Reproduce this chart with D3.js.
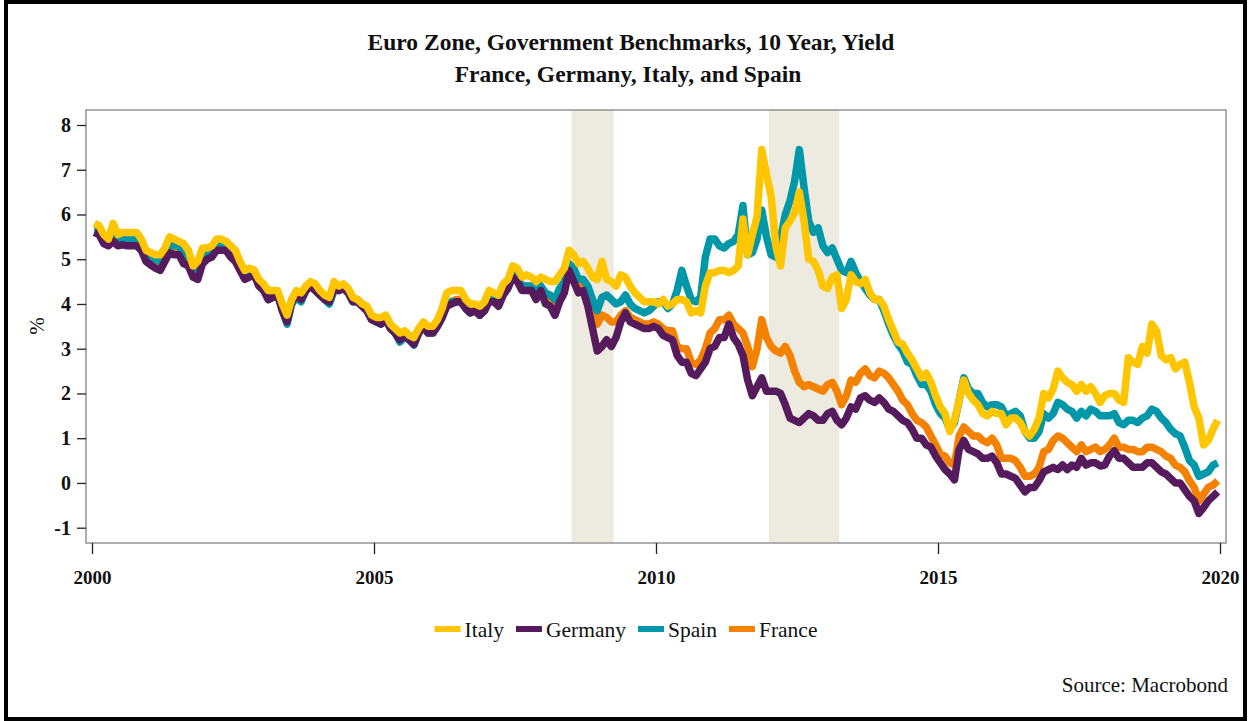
<!DOCTYPE html>
<html><head><meta charset="utf-8">
<script src="https://cdn.jsdelivr.net/npm/d3@7"></script>
<style>body{margin:0;background:#fff} svg{display:block}</style>
</head><body>
<svg id="c" width="1249" height="721"></svg>
<script>
// ---------------- DATA ----------------
const startYear = 2000;               // monthly values, Jan 2000 .. Dec 2019
const xTicks = [2000, 2005, 2010, 2015, 2020];
const yTicks = [-1, 0, 1, 2, 3, 4, 5, 6, 7, 8];
const shadeStart = [2008.5, 2012.0];
const shadeEnd   = [2009.25, 2013.25];
const seriesNames = ["Italy", "Germany", "Spain", "France"];

const italy = [
5.80,5.75,5.55,5.45,5.80,5.55,5.60,5.60,5.60,5.60,5.45,5.20,
5.15,5.10,5.10,5.25,5.50,5.45,5.40,5.35,5.20,4.85,4.95,5.25,
5.25,5.30,5.45,5.45,5.40,5.30,5.20,4.95,4.75,4.80,4.75,4.55,
4.45,4.30,4.30,4.30,4.00,3.75,4.10,4.30,4.25,4.40,4.50,4.45,
4.30,4.20,4.15,4.50,4.40,4.45,4.35,4.15,4.10,4.00,3.95,3.75,
3.70,3.70,3.75,3.55,3.45,3.35,3.40,3.30,3.25,3.45,3.60,3.50,
3.50,3.65,3.90,4.25,4.30,4.30,4.30,4.10,4.00,4.00,3.95,4.05,
4.30,4.25,4.20,4.45,4.55,4.85,4.80,4.60,4.65,4.60,4.50,4.60,
4.55,4.50,4.50,4.65,4.80,5.20,5.10,4.90,4.95,4.80,4.60,4.55,
4.95,4.55,4.50,4.40,4.65,4.60,4.40,4.25,4.15,4.05,4.05,4.05,
4.00,4.10,3.95,4.00,4.10,4.10,4.05,3.80,3.85,3.80,4.40,4.70,
4.70,4.75,4.75,4.70,4.75,4.85,5.90,5.10,5.55,5.95,7.45,6.90,
6.40,5.30,4.85,5.70,5.85,6.05,6.50,5.85,5.00,4.95,4.75,4.40,
4.35,4.60,4.65,3.90,4.10,4.65,4.50,4.45,4.55,4.25,4.10,4.10,
3.95,3.65,3.40,3.15,3.10,2.90,2.75,2.55,2.35,2.45,2.25,1.95,
1.70,1.55,1.15,1.40,1.85,2.30,2.00,1.85,1.75,1.55,1.50,1.60,
1.55,1.55,1.30,1.45,1.45,1.35,1.15,1.05,1.20,1.45,2.00,1.90,
2.10,2.50,2.35,2.25,2.20,2.05,2.20,2.05,2.15,2.00,1.80,1.95,
2.00,2.00,1.85,1.80,2.80,2.70,2.65,3.05,2.90,3.55,3.40,2.85,
2.75,2.80,2.55,2.65,2.70,2.25,1.70,1.45,0.85,0.95,1.20,1.40];

const germany = [
5.60,5.55,5.35,5.30,5.40,5.30,5.32,5.30,5.30,5.30,5.20,4.95,
4.87,4.80,4.75,4.95,5.15,5.10,5.10,4.90,4.85,4.60,4.55,4.90,
5.00,5.05,5.20,5.20,5.20,5.05,4.95,4.75,4.55,4.60,4.65,4.40,
4.30,4.10,4.15,4.20,3.85,3.60,4.05,4.20,4.10,4.30,4.40,4.30,
4.20,4.10,4.05,4.35,4.30,4.35,4.25,4.05,4.05,3.95,3.85,3.65,
3.60,3.55,3.65,3.45,3.35,3.20,3.30,3.20,3.10,3.35,3.50,3.35,
3.35,3.50,3.70,3.95,4.00,4.05,4.05,3.90,3.80,3.85,3.75,3.85,
4.05,4.05,3.95,4.20,4.35,4.60,4.50,4.30,4.30,4.30,4.10,4.30,
4.00,3.95,3.75,4.05,4.25,4.75,4.50,4.25,4.30,3.95,3.45,2.95,
3.05,3.20,3.05,3.25,3.60,3.80,3.60,3.55,3.50,3.45,3.45,3.50,
3.45,3.30,3.25,3.20,2.85,2.70,2.70,2.45,2.40,2.55,2.70,3.00,
3.05,3.25,3.25,3.55,3.25,3.10,2.85,2.30,1.95,2.15,2.35,2.05,
2.05,2.05,2.00,1.75,1.45,1.40,1.35,1.45,1.55,1.50,1.40,1.40,
1.55,1.60,1.40,1.30,1.45,1.70,1.65,1.90,1.95,1.85,1.80,1.90,
1.80,1.65,1.60,1.50,1.40,1.35,1.20,1.00,1.00,0.85,0.80,0.60,
0.45,0.30,0.20,0.07,0.75,0.95,0.75,0.70,0.65,0.55,0.55,0.60,
0.45,0.20,0.20,0.15,0.10,-0.05,-0.20,-0.10,-0.10,0.05,0.25,0.30,
0.35,0.30,0.40,0.30,0.40,0.35,0.55,0.40,0.45,0.45,0.38,0.40,
0.60,0.72,0.55,0.55,0.45,0.35,0.35,0.35,0.45,0.45,0.35,0.25,
0.20,0.10,0.00,0.00,-0.15,-0.30,-0.40,-0.68,-0.55,-0.40,-0.30,-0.20];

const spain = [
5.65,5.65,5.50,5.40,5.55,5.45,5.45,5.45,5.45,5.45,5.35,5.10,
5.05,5.00,4.95,5.15,5.35,5.30,5.30,5.10,5.05,4.85,4.70,5.05,
5.15,5.20,5.35,5.35,5.35,5.20,5.10,4.85,4.60,4.65,4.70,4.45,
4.35,4.10,4.15,4.20,3.85,3.55,4.00,4.15,4.05,4.30,4.40,4.30,
4.20,4.10,4.00,4.30,4.30,4.35,4.25,4.05,4.05,3.95,3.85,3.65,
3.60,3.55,3.65,3.45,3.35,3.15,3.25,3.20,3.08,3.35,3.50,3.35,
3.35,3.50,3.70,4.00,4.05,4.05,4.05,3.90,3.80,3.85,3.75,3.85,
4.10,4.10,4.00,4.25,4.40,4.65,4.60,4.40,4.40,4.40,4.25,4.40,
4.25,4.20,4.10,4.35,4.50,4.90,4.80,4.55,4.55,4.40,4.10,3.85,
4.15,4.20,4.10,4.00,4.05,4.20,4.00,3.90,3.85,3.80,3.85,3.95,
4.05,4.05,3.90,4.00,4.30,4.75,4.40,4.10,4.05,4.15,5.05,5.45,
5.45,5.30,5.25,5.35,5.40,5.55,6.20,5.10,5.15,5.45,6.10,5.50,
5.10,5.05,5.45,6.00,6.30,6.75,7.45,6.60,5.85,5.60,5.70,5.30,
5.15,5.25,5.00,4.75,4.70,4.95,4.70,4.50,4.35,4.20,4.10,4.10,
3.85,3.55,3.30,3.10,2.95,2.70,2.65,2.40,2.20,2.20,2.05,1.75,
1.55,1.45,1.20,1.35,1.85,2.35,2.10,2.00,2.00,1.80,1.70,1.75,
1.75,1.70,1.50,1.55,1.60,1.50,1.15,1.00,1.00,1.15,1.55,1.45,
1.55,1.80,1.75,1.65,1.60,1.45,1.60,1.50,1.65,1.60,1.50,1.50,
1.50,1.55,1.35,1.30,1.40,1.40,1.35,1.45,1.50,1.65,1.60,1.45,
1.35,1.20,1.10,1.05,0.80,0.50,0.40,0.15,0.20,0.25,0.40,0.45];

const france = [
5.70,5.70,5.50,5.40,5.50,5.40,5.42,5.40,5.40,5.40,5.30,5.05,
4.95,4.90,4.85,5.05,5.25,5.20,5.20,5.00,4.95,4.75,4.65,5.00,
5.10,5.15,5.30,5.30,5.30,5.15,5.05,4.80,4.60,4.65,4.75,4.50,
4.40,4.15,4.20,4.25,3.90,3.65,4.10,4.25,4.15,4.35,4.45,4.35,
4.25,4.15,4.05,4.35,4.35,4.40,4.30,4.10,4.10,4.00,3.90,3.70,
3.65,3.60,3.70,3.50,3.40,3.25,3.30,3.25,3.15,3.40,3.55,3.40,
3.40,3.55,3.75,4.00,4.05,4.10,4.10,3.95,3.85,3.85,3.80,3.90,
4.10,4.10,4.00,4.25,4.40,4.65,4.60,4.40,4.40,4.40,4.25,4.40,
4.15,4.10,3.95,4.25,4.40,4.85,4.70,4.40,4.40,4.20,3.90,3.55,
3.75,3.70,3.60,3.60,3.75,3.85,3.70,3.65,3.60,3.55,3.55,3.60,
3.55,3.45,3.40,3.40,3.05,3.00,3.00,2.70,2.65,2.75,3.00,3.35,
3.45,3.65,3.65,3.75,3.55,3.45,3.35,3.05,2.60,3.00,3.65,3.25,
3.05,2.95,2.90,3.05,2.85,2.50,2.25,2.15,2.20,2.15,2.10,2.05,
2.20,2.25,2.05,1.75,1.95,2.30,2.25,2.45,2.55,2.40,2.35,2.50,
2.45,2.35,2.20,2.05,1.85,1.75,1.55,1.40,1.35,1.25,1.05,0.85,
0.65,0.60,0.45,0.40,1.05,1.25,1.15,1.05,1.05,0.95,0.90,1.00,
0.85,0.55,0.55,0.55,0.50,0.35,0.15,0.15,0.20,0.35,0.70,0.75,
0.95,1.05,1.00,0.90,0.80,0.70,0.85,0.70,0.75,0.80,0.70,0.75,
0.85,1.00,0.80,0.80,0.75,0.75,0.70,0.70,0.80,0.80,0.75,0.70,
0.60,0.55,0.40,0.35,0.25,0.05,-0.10,-0.40,-0.25,-0.10,-0.05,0.05];

// ---------------- CHART ----------------
const colors = {Italy:"#FFC600", Germany:"#561B5C", Spain:"#0098A8", France:"#F58100"};
const values = {Italy:italy, Germany:germany, Spain:spain, France:france};
const drawOrder = ["France", "Spain", "Germany", "Italy"];
const serif = "'Liberation Serif','DejaVu Serif',serif";

const svg = d3.select("#c");
const frame = {l:86, t:110, r:1226, b:543};

const x = d3.scaleLinear().domain([2000, 2020]).range([92, 1220]);
const y = d3.scaleLinear().domain([-1, 8]).range([527.7, 125]);

// outer border
svg.append("rect").attr("x",6).attr("y",2).attr("width",1239).attr("height",717)
  .attr("fill","#fff").attr("stroke","#000").attr("stroke-width",4);

// title
const title = svg.append("g").attr("font-family",serif).attr("font-weight","bold")
  .attr("font-size",23.5).attr("text-anchor","middle").attr("fill","#111");
title.append("text").attr("x",631).attr("y",50).text("Euro Zone, Government Benchmarks, 10 Year, Yield");
title.append("text").attr("x",628).attr("y",82).text("France, Germany, Italy, and Spain");

// shading
svg.append("g").selectAll("rect").data(shadeStart).join("rect")
  .attr("x", (d)=>x(d)).attr("width",(d,i)=>x(shadeEnd[i])-x(d))
  .attr("y",frame.t).attr("height",frame.b-frame.t)
  .attr("fill","#EDEAE0");

// lines
const line = d3.line().x((d,i)=>x(startYear + (i+0.5)/12)).y(d=>y(d));
svg.append("g").selectAll("path").data(drawOrder).join("path")
  .attr("d", n=>line(values[n]))
  .attr("fill","none").attr("stroke",n=>colors[n])
  .attr("stroke-width",7.5).attr("stroke-linejoin","round").attr("stroke-linecap","butt");

// frame
svg.append("rect").attr("x",frame.l).attr("y",frame.t)
  .attr("width",frame.r-frame.l).attr("height",frame.b-frame.t)
  .attr("fill","none").attr("stroke","#9a9a9a").attr("stroke-width",1.6);

// y axis
const ya = svg.append("g").attr("transform",`translate(${frame.l},0)`)
  .call(d3.axisLeft(y).tickValues(yTicks).tickSize(9).tickPadding(6).tickFormat(d=>String(d)));
ya.select(".domain").remove();
ya.selectAll("line").attr("stroke","#222").attr("stroke-width",1.3);
ya.selectAll("text").attr("font-family",serif).attr("font-weight","bold")
  .attr("font-size",20).attr("fill","#111");

// x axis
const xa = svg.append("g").attr("transform",`translate(0,${frame.b})`)
  .call(d3.axisBottom(x).tickValues(xTicks).tickSize(11).tickPadding(17).tickFormat(d=>String(d)));
xa.select(".domain").remove();
xa.selectAll("line").attr("stroke","#222").attr("stroke-width",1.3);
xa.selectAll("text").attr("font-family",serif).attr("font-weight","bold")
  .attr("font-size",19).attr("fill","#111");

// y label
svg.append("text").attr("transform","translate(44,326) rotate(-90)")
  .attr("text-anchor","middle").attr("font-family",serif).attr("font-size",21)
  .attr("fill","#111").text("%");

// legend
const lg = svg.append("g").attr("font-family",serif).attr("font-size",21.5).attr("fill","#111");
const items = seriesNames.map(n=>{
  const g = lg.append("g");
  g.append("line").attr("x1",0).attr("x2",26).attr("y1",0).attr("y2",0)
    .attr("stroke",colors[n]).attr("stroke-width",6);
  const t = g.append("text").attr("x",30).attr("y",8).text(n);
  return {g, w: 30 + t.node().getComputedTextLength()};
});
const gap = 12;
const total = d3.sum(items, d=>d.w) + gap*(items.length-1);
let cx = 626 - total/2;
items.forEach(it=>{ it.g.attr("transform",`translate(${cx},629)`); cx += it.w + gap; });

// source
svg.append("text").attr("x",1228).attr("y",692).attr("text-anchor","end")
  .attr("font-family",serif).attr("font-size",21).attr("fill","#111").text("Source: Macrobond");
</script>
</body></html>
